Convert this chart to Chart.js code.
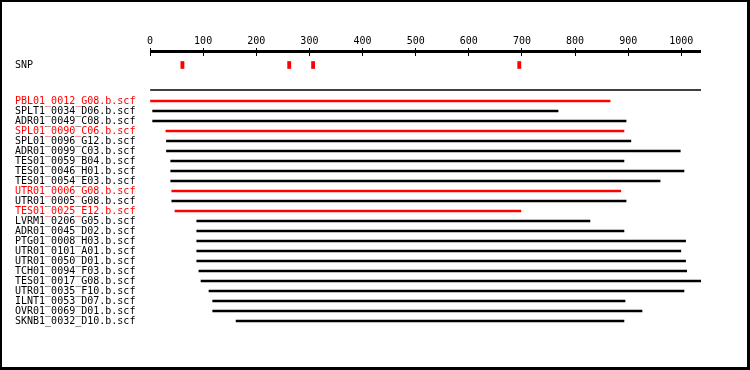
<!DOCTYPE html>
<html>
<head>
<meta charset="utf-8">
<script src="https://cdn.jsdelivr.net/npm/chart.js@4"></script>
<style>
  body { margin: 0; background: #fff; }
  #wrap { width: 750px; height: 370px; }
</style>
</head>
<body>
<div id="wrap"><canvas id="chart1" width="750" height="370"></canvas></div>
<script>
// reads, in display order
var readNames = [
  'PBL01_0012_G08.b.scf', 'SPLT1_0034_D06.b.scf', 'ADR01_0049_C08.b.scf',
  'SPL01_0090_C06.b.scf', 'SPL01_0096_G12.b.scf', 'ADR01_0099_C03.b.scf',
  'TES01_0059_B04.b.scf', 'TES01_0046_H01.b.scf', 'TES01_0054_E03.b.scf',
  'UTR01_0006_G08.b.scf', 'UTR01_0005_G08.b.scf', 'TES01_0025_E12.b.scf',
  'LVRM1_0206_G05.b.scf', 'ADR01_0045_D02.b.scf', 'PTG01_0008_H03.b.scf',
  'UTR01_0101_A01.b.scf', 'UTR01_0050_D01.b.scf', 'TCH01_0094_F03.b.scf',
  'TES01_0017_G08.b.scf', 'UTR01_0035_F10.b.scf', 'ILNT1_0053_D07.b.scf',
  'OVR01_0069_D01.b.scf', 'SKNB1_0032_D10.b.scf'
];
var readStart = [1, 5, 5, 30, 31, 31, 39, 39, 39, 41, 41, 47, 88, 88, 88, 88, 88, 92, 96, 111, 118, 118, 162];
var readEnd = [866, 768, 896, 892, 905, 998, 892, 1005, 960, 886, 896, 698, 828, 892, 1008, 999, 1008, 1010, 1037, 1005, 894, 926, 892];
var highlighted = ['PBL01_0012_G08.b.scf', 'SPL01_0090_C06.b.scf', 'UTR01_0006_G08.b.scf', 'TES01_0025_E12.b.scf'];
var snpPos = [61, 262, 307, 695];
var xTicks = [0, 100, 200, 300, 400, 500, 600, 700, 800, 900, 1000];
var seqLength = 1037;

var SNP_ROW = -3.6;
var RULE_ROW = -1.1;
var RED = '#ff0000';

function rowColor(name) {
  return highlighted.indexOf(name) >= 0 ? RED : '#000000';
}

function noPad(s) {
  s.paddingTop = 0; s.paddingBottom = 0; s.paddingLeft = 0; s.paddingRight = 0;
}

var readData = readNames.map(function (n, i) {
  return { x: [readStart[i], readEnd[i]], y: i };
});
var snpData = snpPos.map(function (p) {
  return { x: [p - 3, p + 3], y: SNP_ROW };
});

var frameAndAxis = {
  id: 'frameAndAxis',
  beforeDraw: function (chart) {
    var c = chart.ctx;
    c.save();
    c.fillStyle = '#fff';
    c.fillRect(0, 0, chart.width, chart.height);
    c.restore();
  },
  afterDraw: function (chart) {
    var c = chart.ctx, xs = chart.scales.x;
    var x0 = xs.getPixelForValue(0);
    c.save();
    c.fillStyle = '#000';
    c.fillRect(x0, xs.bottom - 6, xs.getPixelForValue(seqLength) - x0, 3);
    // frame
    c.fillRect(0, 0, chart.width, 2);
    c.fillRect(0, 0, 2, chart.height);
    c.fillRect(chart.width - 3, 0, 3, chart.height);
    c.fillRect(0, chart.height - 3, chart.width, 3);
    c.restore();
  }
};

var ctx1 = document.getElementById('chart1').getContext('2d');
var chart1 = new Chart(ctx1, {
  type: 'bar',
  data: {
    datasets: [{
      label: 'reads',
      data: readData,
      backgroundColor: readNames.map(rowColor),
      maxBarThickness: 2
    }, {
      label: 'SNP',
      data: snpData,
      backgroundColor: RED,
      maxBarThickness: 7
    }, {
      label: 'rule',
      data: [{ x: [0, seqLength], y: RULE_ROW }],
      backgroundColor: '#000',
      maxBarThickness: 1
    }]
  },
  plugins: [frameAndAxis],
  options: {
    indexAxis: 'y',
    responsive: false,
    animation: false,
    grouped: false,
    categoryPercentage: 1,
    barPercentage: 1,
    borderWidth: 0,
    layout: { padding: { left: 15, right: 49, top: 0, bottom: 39 } },
    plugins: { legend: { display: false }, tooltip: { enabled: false } },
    scales: {
      x: {
        type: 'linear',
        position: 'top',
        min: 0,
        max: seqLength,
        stacked: false,
        afterFit: function (s) { s.height = 56; noPad(s); },
        afterBuildTicks: function (s) {
          s.ticks = xTicks.map(function (v) { return { value: v }; });
        },
        border: { display: false },
        grid: { drawOnChartArea: false, tickLength: 8, color: '#000', lineWidth: 1 },
        ticks: {
          color: '#000',
          padding: 1,
          maxRotation: 0,
          font: { family: 'DejaVu Sans Mono', size: 10 },
          callback: function (v) { return String(v); }
        }
      },
      y: {
        type: 'linear',
        reverse: true,
        offset: false,
        min: -4.5,
        max: 23,
        afterFit: function (s) { s.width = 135; noPad(s); },
        afterBuildTicks: function (s) {
          var t = [{ value: SNP_ROW }];
          readNames.forEach(function (n, i) { t.push({ value: i }); });
          s.ticks = t;
        },
        border: { display: false },
        grid: { display: false, offset: false },
        ticks: {
          crossAlign: 'far',
          autoSkip: false,
          padding: 0,
          font: { family: 'DejaVu Sans Mono', size: 10 },
          color: function (c) {
            if (c.tick.value === SNP_ROW) return '#000';
            return rowColor(readNames[c.tick.value]);
          },
          callback: function (v) {
            if (v === SNP_ROW) return 'SNP';
            return readNames[v];
          }
        }
      }
    }
  }
});
</script>
</body>
</html>
